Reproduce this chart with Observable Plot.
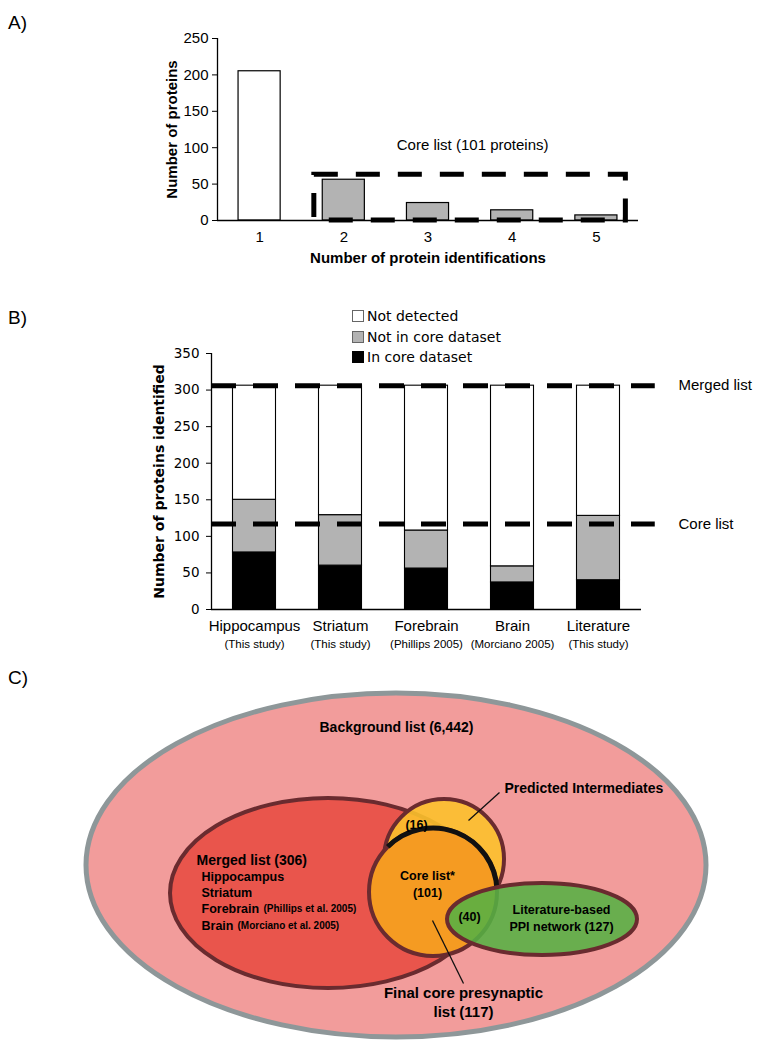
<!DOCTYPE html>
<html><head><meta charset="utf-8">
<script src="https://cdn.jsdelivr.net/npm/d3@7"></script>
<script src="https://cdn.jsdelivr.net/npm/@observablehq/plot@0.6"></script>
<style>
body{margin:0;background:#fff;}
#page{position:relative;width:761px;height:1050px;overflow:hidden;background:#fff;font-family:"Liberation Sans",Arial,sans-serif;}
.panel{position:absolute;left:0;}
.tag{position:absolute;left:8px;font-size:19px;line-height:1;color:#000;}
.legend{position:absolute;left:352px;top:306px;font-family:"DejaVu Sans",Verdana,sans-serif;font-size:14px;color:#000;}
.legend .row{display:flex;align-items:center;height:20.5px;}
.legend .sw{width:10px;height:10px;border:1px solid #666;margin-right:3px;display:inline-block;box-sizing:content-box;}
</style></head><body>
<div id="page">
  <div class="tag" style="top:13px">A)</div>
  <div class="tag" style="top:308px">B)</div>
  <div class="tag" style="top:668px">C)</div>
  <div id="pa" class="panel" style="top:0px"></div>
  <div id="pb" class="panel" style="top:330px"></div>
  <div id="pc" class="panel" style="top:660px"></div>
  <div id="legend" class="legend"></div>
</div>
<script>
// ---------------- Panel A data ----------------
const idCounts = [1, 2, 3, 4, 5];
const proteinCounts = [205, 56, 24, 14, 7];
const yTicksA = [0, 50, 100, 150, 200, 250];
const coreBox = [{x1: 1.65, x2: 5.35, y1: 0, y2: 63}];
const coreBoxLabel = [{x: 3.53, y: 103, text: "Core list (101 proteins)"}];
const xTitleA = "Number of protein identifications";
const yTitleA = "Number of proteins";

// ---------------- Panel B data ----------------
const tissues = ["Hippocampus", "Striatum", "Forebrain", "Brain", "Literature"];
const sources = ["(This study)", "(This study)", "(Phillips 2005)", "(Morciano 2005)", "(This study)"];
const inCore = [78, 60, 56, 37, 40];
const notInCore = [72, 69, 52, 22, 88];
const notDetected = [156, 177, 198, 247, 178];
const seriesNames = ["In core dataset", "Not in core dataset", "Not detected"];
const legendOrder = ["Not detected", "Not in core dataset", "In core dataset"];
const yTicksB = [0, 50, 100, 150, 200, 250, 300, 350];
const refValues = [306, 117];
const refLabels = ["Merged list", "Core list"];
const refExtent = {x1: 0.5, x2: 5.66, labelX: 5.93};
const yTitleB = "Number of proteins identified";

// ---------------- Panel C data (diagram layout units) ----------------
const vennSets = ["Background list", "Merged list", "Predicted intermediates", "Core list", "Literature-based PPI network"];
const vennCx = [396, 328, 444, 433, 542];
const vennCy = [205, 233, 199, 232, 259];
const vennRx = [310, 158, 60, 64, 95];
const vennRy = [172, 95, 60, 64, 36];
const coreArc = {set: "Core list", from: -135, to: -2};
const leaders = [
  {x1: 499, y1: 132, x2: 468, y2: 160},
  {x1: 432, y1: 260, x2: 463, y2: 323}
];
const labelsCentered = [
  {x: 396, y: 67, text: "Background list (6,442)"}
];
const labelsLeft = [
  {x: 504, y: 128, text: "Predicted Intermediates"},
  {x: 196, y: 200, text: "Merged list (306)"}
];
const labelsFinal = [
  {x: 463, y: 333, text: "Final core presynaptic"},
  {x: 463, y: 352, text: "list (117)"}
];
const labelsMerged = [
  {x: 201, y: 216, text: "Hippocampus"},
  {x: 201, y: 232, text: "Striatum"},
  {x: 201, y: 248, text: "Forebrain"},
  {x: 201, y: 265, text: "Brain"}
];
const labelsCite = [
  {x: 263, y: 248, text: "(Phillips et al. 2005)"},
  {x: 237, y: 265, text: "(Morciano et al. 2005)"}
];
const labelsInner = [
  {x: 416, y: 164, text: "(16)"},
  {x: 427, y: 215, text: "Core list*"},
  {x: 427, y: 232, text: "(101)"},
  {x: 469, y: 256, text: "(40)"},
  {x: 561, y: 249, text: "Literature-based"},
  {x: 561, y: 266, text: "PPI network (127)"}
];

// ---------------- styles ----------------
const GRAY = "#b3b3b3";
const seriesColor = {"In core dataset": "#000", "Not in core dataset": GRAY, "Not detected": "#fff"};
const vennFill = ["#f29c9b", "#e9554c", "#fcc12c", "#f59b22", "#55b043"];
const vennFillOpacity = [1, 1, 0.9, 1, 0.88];
const vennStroke = ["#8e9799", "#6a2b2f", "#6a2b2f", "#6a2b2f", "#6a2b2f"];
const vennStrokeWidth = [5, 4, 4, 4, 4];
const ARIAL = "Liberation Sans, Arial, sans-serif";
const VERDANA = "DejaVu Sans, Verdana, sans-serif";

// ================= Panel A =================
const tableA = idCounts.map((n, i) => ({n, count: proteinCounts[i]}));
const plotA = Plot.plot({
  width: 761, height: 280,
  marginLeft: 217, marginRight: 123, marginTop: 38, marginBottom: 60,
  style: {fontFamily: ARIAL, fontSize: "15px", color: "black", background: "transparent", overflow: "visible"},
  x: {domain: [0.5, 5.5], axis: null},
  y: {domain: [0, 250], axis: null},
  color: {type: "identity"},
  marks: [
    Plot.rect(tableA, {x1: d => d.n - 0.25, x2: d => d.n + 0.25, y1: 0, y2: "count",
      fill: d => d.n >= 2 ? GRAY : "#fff", stroke: "black", strokeWidth: 1.2}),
    Plot.ruleY([0], {x1: 0.5, x2: 5.5, stroke: "black", strokeWidth: 1.3}),
    Plot.ruleX([0.5], {y1: 0, y2: 250, stroke: "black", strokeWidth: 1.3}),
    Plot.axisY({ticks: yTicksA, tickSize: 5, tickPadding: 4, label: null, fontSize: 15}),
    Plot.axisX({ticks: idCounts, tickSize: 0, tickPadding: 11, label: null, tickFormat: d => String(d), fontSize: 15}),
    Plot.rect(coreBox, {x1: "x1", x2: "x2", y1: "y1", y2: "y2", fill: "none", stroke: "black", strokeWidth: 5, strokeDasharray: "24,18"}),
    Plot.text(coreBoxLabel, {x: "x", y: "y", text: "text", fontSize: 15}),
    Plot.text([xTitleA], {frameAnchor: "bottom", textAnchor: "middle", dy: 42, fontWeight: "bold", fontSize: 15}),
    Plot.text([yTitleA], {frameAnchor: "left", textAnchor: "middle", dx: -45, rotate: -90, fontWeight: "bold", fontSize: 15})
  ]
});
document.getElementById("pa").appendChild(plotA);

// ================= Panel B =================
const tableB = [];
tissues.forEach((t, i) => {
  const vals = [inCore[i], notInCore[i], notDetected[i]];
  let acc = 0;
  vals.forEach((v, k) => {
    tableB.push({pos: i + 1, tissue: t, series: seriesNames[k], y1: acc, y2: acc + v});
    acc += v;
  });
});
const refTable = refValues.map((v, i) => ({value: v, label: refLabels[i]}));
const catTable = tissues.map((t, i) => ({pos: i + 1, tissue: t, source: sources[i]}));

const plotB = Plot.plot({
  width: 761, height: 330,
  marginLeft: 211, marginRight: 120, marginTop: 23, marginBottom: 51,
  style: {fontFamily: VERDANA, fontSize: "13.5px", color: "black", background: "transparent", overflow: "visible"},
  x: {domain: [0.5, 5.5], axis: null},
  y: {domain: [0, 350], axis: null},
  color: {type: "identity"},
  marks: [
    Plot.rect(tableB, {x1: d => d.pos - 0.25, x2: d => d.pos + 0.25, y1: "y1", y2: "y2",
      fill: d => seriesColor[d.series], stroke: "black", strokeWidth: 1.1}),
    Plot.ruleY([0], {x1: 0.5, x2: 5.5, stroke: "black", strokeWidth: 1.3}),
    Plot.ruleX([0.5], {y1: 0, y2: 350, stroke: "black", strokeWidth: 1.3}),
    Plot.axisY({ticks: yTicksB, tickSize: 5, tickPadding: 7, label: null, fontSize: 13.5}),
    Plot.ruleY(refTable, {y: "value", x1: refExtent.x1, x2: refExtent.x2, stroke: "black", strokeWidth: 5, strokeDasharray: "25,17"}),
    Plot.text(refTable, {y: "value", x: refExtent.labelX, text: "label", textAnchor: "start", fontFamily: ARIAL, fontSize: 15}),
    Plot.text(catTable, {x: "pos", y: 0, dy: 16.5, text: "tissue", fontFamily: ARIAL, fontSize: 15}),
    Plot.text(catTable, {x: "pos", y: 0, dy: 35, text: "source", fontFamily: ARIAL, fontSize: 11.5}),
    Plot.text([yTitleB], {frameAnchor: "left", textAnchor: "middle", dx: -52, rotate: -90, fontWeight: "bold", fontSize: 14})
  ]
});
document.getElementById("pb").appendChild(plotB);

// legend
const leg = document.getElementById("legend");
legendOrder.forEach(name => {
  const row = document.createElement("div");
  row.className = "row";
  const sw = document.createElement("span");
  sw.className = "sw";
  sw.style.background = seriesColor[name];
  if (name === "In core dataset") sw.style.borderColor = "#000";
  row.appendChild(sw);
  row.appendChild(document.createTextNode(name));
  leg.appendChild(row);
});

// ================= Panel C =================
const vennTable = vennSets.map((s, i) => ({set: s, cx: vennCx[i], cy: vennCy[i], rx: vennRx[i], ry: vennRy[i], k: i}));

function ellipseMark(rows) {
  return (index, scales) => {
    const g = d3.create("svg:g");
    for (const r of rows) {
      const cx = scales.x(r.cx), cy = scales.y(r.cy);
      const rx = Math.abs(scales.x(r.cx + r.rx) - cx);
      const ry = Math.abs(scales.y(r.cy + r.ry) - cy);
      g.append("ellipse")
        .attr("cx", cx).attr("cy", cy).attr("rx", rx).attr("ry", ry)
        .attr("fill", vennFill[r.k]).attr("fill-opacity", vennFillOpacity[r.k])
        .attr("stroke", vennStroke[r.k]).attr("stroke-width", vennStrokeWidth[r.k]);
    }
    return g.node();
  };
}
function arcMark(arc) {
  return (index, scales) => {
    const r = vennTable.find(d => d.set === arc.set);
    const cx = scales.x(r.cx), cy = scales.y(r.cy);
    const rad = Math.abs(scales.x(r.cx + r.rx) - cx);
    const a0 = arc.from * Math.PI / 180, a1 = arc.to * Math.PI / 180;
    const p = d3.path();
    p.arc(cx, cy, rad, a0, a1, false);
    const g = d3.create("svg:g");
    g.append("path").attr("d", p.toString()).attr("fill", "none")
      .attr("stroke", "#111").attr("stroke-width", 5);
    return g.node();
  };
}

const plotC = Plot.plot({
  width: 761, height: 390,
  marginLeft: 0, marginRight: 0, marginTop: 0, marginBottom: 0,
  style: {fontFamily: ARIAL, fontSize: "13px", color: "black", background: "transparent", overflow: "visible"},
  x: {domain: [0, 761], range: [0, 761], axis: null},
  y: {domain: [0, 390], range: [0, 390], axis: null},
  marks: [
    ellipseMark(vennTable.filter(d => d.k <= 2)),
    ellipseMark(vennTable.filter(d => d.k === 3)),
    arcMark(coreArc),
    ellipseMark(vennTable.filter(d => d.k === 4)),
    Plot.link(leaders, {x1: "x1", y1: "y1", x2: "x2", y2: "y2", stroke: "#111", strokeWidth: 1.3}),
    Plot.text(labelsCentered, {x: "x", y: "y", text: "text", textAnchor: "middle", fontWeight: "bold", fontSize: 14}),
    Plot.text(labelsLeft, {x: "x", y: "y", text: "text", textAnchor: "start", fontWeight: "bold", fontSize: 14}),
    Plot.text(labelsFinal, {x: "x", y: "y", text: "text", fontWeight: "bold", fontSize: 15}),
    Plot.text(labelsMerged, {x: "x", y: "y", text: "text", textAnchor: "start", fontWeight: "bold", fontSize: 12.5}),
    Plot.text(labelsCite, {x: "x", y: "y", text: "text", textAnchor: "start", fontWeight: "bold", fontSize: 10}),
    Plot.text(labelsInner, {x: "x", y: "y", text: "text", fontWeight: "bold", fontSize: 12.5})
  ]
});
document.getElementById("pc").appendChild(plotC);
</script>
</body></html>
